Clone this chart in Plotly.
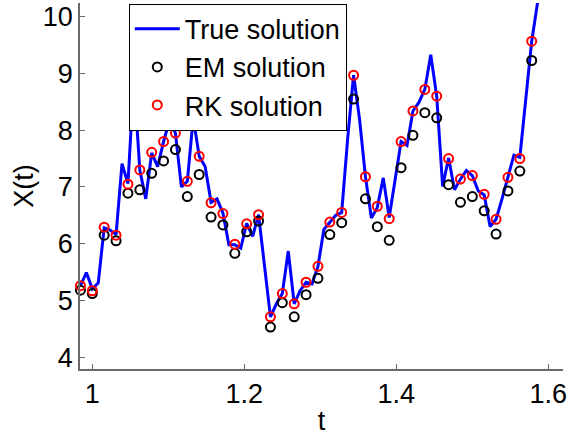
import numpy as np
import plotly.graph_objects as go

# Fine grid of the reference path: t = k/128, k = 126 ... 204
k_start, k_stop, fine_den = 126, 204, 128
x_true = [5.26, 5.49, 5.20, 5.31, 6.28, 6.24, 6.16, 7.41, 7.06, 8.90,
          7.30, 6.79, 7.60, 7.36, 7.80, 8.18, 7.95, 7.00, 7.10, 8.22,
          7.54, 7.36, 6.73, 6.79, 6.54, 5.98, 5.98, 5.92, 6.36, 6.13,
          6.51, 5.55, 4.71, 4.94, 5.12, 5.87, 4.94, 5.17, 5.32, 5.29,
          5.60, 6.25, 6.38, 6.50, 6.55, 7.85, 8.97, 8.20, 7.18, 6.45,
          6.64, 7.16, 6.46, 7.14, 7.80, 7.73, 8.34, 8.49, 8.72, 9.33,
          8.60, 7.01, 7.51, 6.95, 7.14, 7.29, 7.20, 6.93, 6.86, 6.30,
          6.43, 6.79, 7.17, 7.56, 7.52, 8.54, 9.57, 10.26, 10.90]

# Coarse grid of the numerical schemes: t = m/64, m = 63 ... 101
m_start, m_stop, coarse_den = 63, 101, 64
x_em = [5.18, 5.12, 6.15, 6.05, 6.89, 6.95, 7.24, 7.46, 7.66, 6.83,
        7.22, 6.47, 6.33, 5.83, 6.21, 6.40, 4.53, 4.96, 4.71, 5.10,
        5.39, 6.16, 6.37, 8.55, 6.79, 6.30, 6.06, 7.34, 7.91, 8.31,
        8.22, 7.04, 6.73, 6.83, 6.58, 6.17, 6.93, 7.28, 9.23]
x_rk = [5.26, 5.17, 6.29, 6.15, 7.05, 7.30, 7.61, 7.80, 7.95, 7.10,
        7.54, 6.72, 6.53, 5.99, 6.35, 6.51, 4.71, 5.12, 4.94, 5.32,
        5.60, 6.38, 6.55, 8.97, 7.18, 6.66, 6.44, 7.80, 8.34, 8.72,
        8.60, 7.50, 7.14, 7.20, 6.87, 6.43, 7.17, 7.50, 9.57]

x_tickvals = [1, 1.2, 1.4, 1.6]
x_ticktext = ["1", "1.2", "1.4", "1.6"]
y_tickvals = [4, 5, 6, 7, 8, 9, 10]
y_ticktext = ["4", "5", "6", "7", "8", "9", "10"]

t_fine = np.arange(k_start, k_stop + 1) / fine_den
t_coarse = np.arange(m_start, m_stop + 1) / coarse_den

FONT = "Liberation Sans, Arial, Helvetica, sans-serif"
FSIZE = 27
AXIS_COLOR = "#6a6a6a"

fig = go.Figure()
fig.add_trace(go.Scatter(
    x=t_fine, y=x_true, mode="lines", name="True solution",
    line=dict(color="#0000ff", width=3),
))
fig.add_trace(go.Scatter(
    x=t_coarse, y=x_em, mode="markers", name="EM solution",
    marker=dict(symbol="circle-open", size=9, color="#000000",
                line=dict(width=2, color="#000000")),
    cliponaxis=False,
))
fig.add_trace(go.Scatter(
    x=t_coarse, y=x_rk, mode="markers", name="RK solution",
    marker=dict(symbol="circle-open", size=9, color="#ff0000",
                line=dict(width=2, color="#ff0000")),
    cliponaxis=False,
))

fig.update_layout(
    width=569, height=436,
    margin=dict(l=80, r=6, t=2, b=64),
    paper_bgcolor="white", plot_bgcolor="white",
    font=dict(family=FONT, size=FSIZE, color="black"),
    showlegend=True,
    legend=dict(
        x=0.101, y=0.998, xanchor="left", yanchor="top",
        bgcolor="white", bordercolor="black", borderwidth=1,
        font=dict(family=FONT, size=FSIZE, color="black"),
        itemwidth=45,
    ),
    xaxis=dict(
        range=[0.9838, 1.6193],
        tickvals=x_tickvals, ticktext=x_ticktext,
        showline=True, linecolor=AXIS_COLOR, linewidth=1.5,
        ticks="inside", ticklen=5, tickcolor=AXIS_COLOR, tickwidth=1,
        showgrid=False, zeroline=False,
        title=dict(text="t", font=dict(family=FONT, size=FSIZE), standoff=6),
        tickfont=dict(family=FONT, size=FSIZE),
    ),
    yaxis=dict(
        range=[3.79, 10.244],
        tickvals=y_tickvals, ticktext=y_ticktext,
        showline=True, linecolor=AXIS_COLOR, linewidth=1.5,
        ticks="inside", ticklen=5, tickcolor=AXIS_COLOR, tickwidth=1,
        showgrid=False, zeroline=False,
        title=dict(text="X(t)", font=dict(family=FONT, size=FSIZE), standoff=1),
        tickfont=dict(family=FONT, size=FSIZE),
    ),
)

fig.write_html("out.html")
